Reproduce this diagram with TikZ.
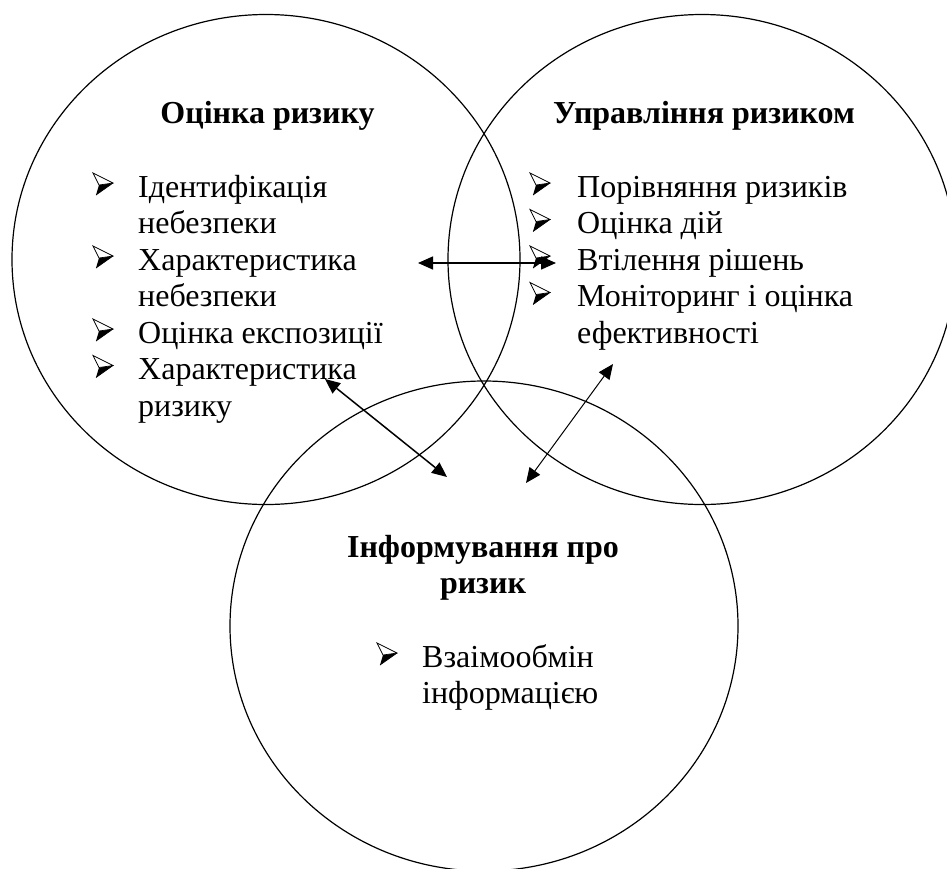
\documentclass[tikz,border=0pt]{standalone}
\usepackage{fontspec}
\setmainfont{Liberation Serif}
\usetikzlibrary{arrows.meta,shapes.geometric}
\tikzset{
  ring/.style={draw, ellipse, line width=1.2pt, minimum width=508pt, minimum height=490pt, inner sep=0pt},
  ttl/.style={anchor=base, inner sep=0pt, font=\fontsize{32}{36.5}\selectfont\bfseries},
  itm/.style={anchor=base west, inner sep=0pt, font=\fontsize{32}{36.5}\selectfont},
  arrowbul/.pic={
    \fill[black] (6,-12) -- (20,-14) -- (3,-2) -- cycle;
    \draw[line width=0.7pt, fill=white, line join=miter] (0,-24) -- (20,-14) -- (6,-12) -- cycle;
    \draw[line width=0.7pt] (20,-14) -- (3,-2);
  },
  dbl/.style={{Triangle[length=15pt,width=13pt]}-{Triangle[length=15pt,width=13pt]}, line width=1.5pt},
  dblthin/.style={{Triangle[length=15pt,width=13pt]}-{Triangle[length=15pt,width=13pt]}, line width=1pt}
}
\begin{document}
\begin{tikzpicture}[x=1pt,y=-1pt]
\useasboundingbox (0,0) rectangle (947,868);
\node[ring] (L) at (266,259.5) {};
\node[ring] (R) at (702,259.5) {};
\node[ring] (B) at (484,626) {};

% left circle
\node[ttl] (Lt) at (267.5,123) {Оцінка ризику};
\pic at (93,197) {arrowbul};
\node[itm] (L1) at (138,197) {Ідентифікація};
\node[itm] (L1b) at (138,233.5) {небезпеки};
\pic at (93,270) {arrowbul};
\node[itm] (L2) at (138,270) {Характеристика};
\node[itm] (L2b) at (138,306.5) {небезпеки};
\pic at (93,343) {arrowbul};
\node[itm] (L3) at (138,343) {Оцінка експозиції};
\pic at (93,379.5) {arrowbul};
\node[itm] (L4) at (138,379.5) {Характеристика};
\node[itm] (L4b) at (138,416) {ризику};

% right circle
\node[ttl] (Rt) at (704,123) {Управління ризиком};
\pic at (530,197) {arrowbul};
\node[itm] (R1) at (577,197) {Порівняння ризиків};
\pic at (530,233.5) {arrowbul};
\node[itm] (R2) at (577,233.5) {Оцінка дій};
\pic at (530,270) {arrowbul};
\node[itm] (R3) at (577,270) {Втілення рішень};
\pic at (530,306.5) {arrowbul};
\node[itm] (R4) at (577,306.5) {Моніторинг і оцінка};
\node[itm] (R4b) at (577,343) {ефективності};

% bottom circle
\node[ttl] (Bt1) at (483,557) {Інформування про};
\node[ttl] (Bt2) at (483,593.5) {ризик};
\pic at (377,667) {arrowbul};
\node[itm] (B1) at (422,667) {Взаімообмін};
\node[itm] (B1b) at (422,703.5) {інформацією};

% arrows
\coordinate (h1) at (418,263);
\coordinate (h2) at (556,263);
\coordinate (d1) at (325,379);
\coordinate (d2) at (447,477);
\coordinate (e1) at (613,364);
\coordinate (e2) at (526,483);
\draw[dbl] (h1) -- (h2);
\draw[dbl] (d1) -- (d2);
\draw[dblthin] (e1) -- (e2);
\end{tikzpicture}
\end{document}
